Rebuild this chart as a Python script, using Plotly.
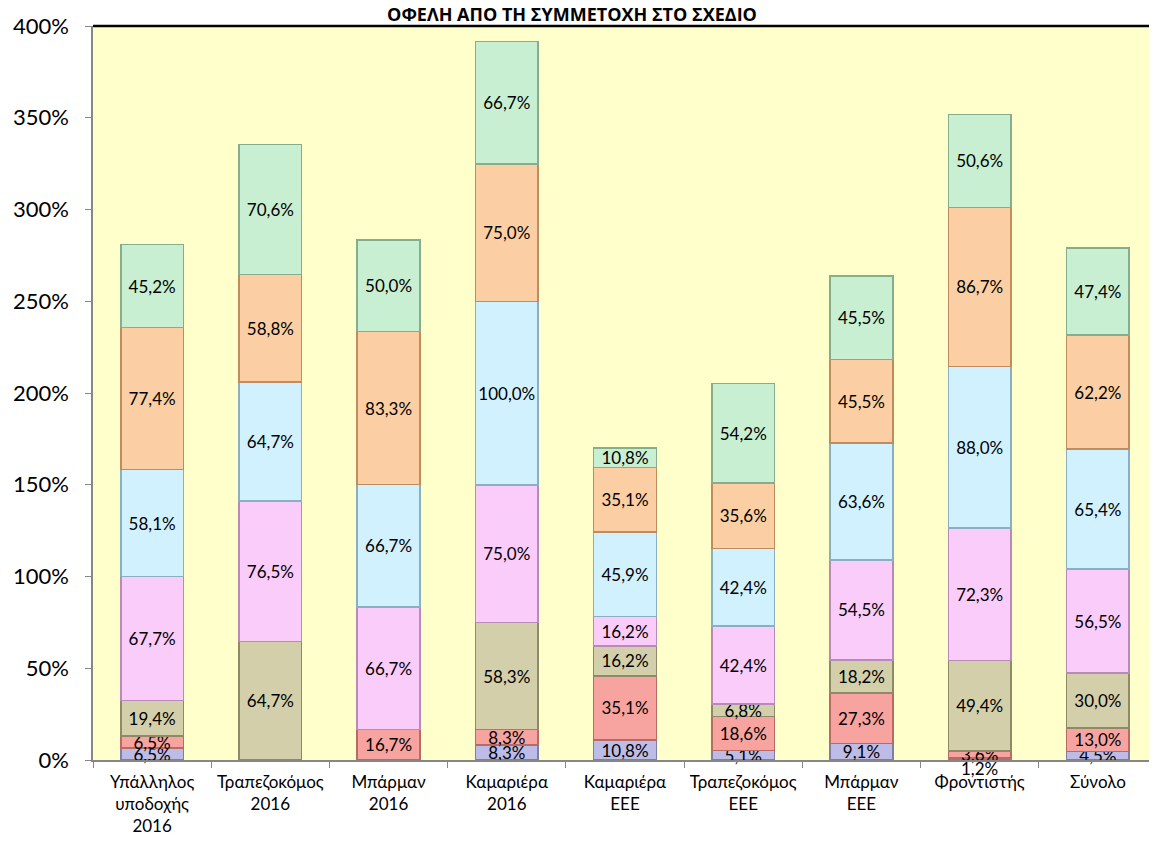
import plotly.graph_objects as go

categories = ["Υπάλληλος<br>υποδοχής<br>2016", "Τραπεζοκόμος<br>2016", "Μπάρμαν<br>2016",
              "Καμαριέρα<br>2016", "Καμαριέρα<br>ΕΕΕ", "Τραπεζοκόμος<br>ΕΕΕ", "Μπάρμαν<br>ΕΕΕ",
              "Φροντιστής", "Σύνολο"]

s_blue = [6.5, None, None, 8.3, 10.8, 5.1, 9.1, 1.2, 4.5]
s_red = [6.5, None, 16.7, 8.3, 35.1, 18.6, 27.3, 3.6, 13.0]
s_olive = [19.4, 64.7, None, 58.3, 16.2, 6.8, 18.2, 49.4, 30.0]
s_pink = [67.7, 76.5, 66.7, 75.0, 16.2, 42.4, 54.5, 72.3, 56.5]
s_lblue = [58.1, 64.7, 66.7, 100.0, 45.9, 42.4, 63.6, 88.0, 65.4]
s_orange = [77.4, 58.8, 83.3, 75.0, 35.1, 35.6, 45.5, 86.7, 62.2]
s_green = [45.2, 70.6, 50.0, 66.7, 10.8, 54.2, 45.5, 50.6, 47.4]

series = [
    (s_blue, "#BCBCE6", "#7E7EA8"),
    (s_red, "#F7A4A0", "#B86A64"),
    (s_olive, "#D3CFAB", "#8E8A66"),
    (s_pink, "#F9CCF9", "#B88AB8"),
    (s_lblue, "#D2F1FF", "#8AAFC2"),
    (s_orange, "#FBCFA3", "#BE8C5E"),
    (s_green, "#C8EFD2", "#86AD8E"),
]


def fmt(v):
    return f"{v:.1f}%".replace(".", ",")


fig = go.Figure()
annotations = []
for vals, col, edge in series:
    y = [None if v is None else v / 100 for v in vals]
    txt = []
    for cat, v in zip(categories, vals):
        if v is None:
            txt.append(None)
        elif v < 2:
            txt.append(None)
            annotations.append(dict(x=cat, y=0, xref="x", yref="y", text=fmt(v),
                                    showarrow=False, yanchor="top", yshift=4,
                                    font=dict(family="Lato", size=17, color="black")))
        else:
            txt.append(fmt(v))
    fig.add_trace(go.Bar(
        x=categories, y=y, text=txt, textposition="inside", insidetextanchor="middle",
        constraintext="none", textangle=0,
        textfont=dict(family="Lato", size=17, color="black"),
        marker=dict(color=col, line=dict(color=edge, width=1.5)),
        hoverinfo="skip", showlegend=False, cliponaxis=False,
    ))

fig.update_layout(
    barmode="stack", bargap=0.47,
    width=1149, height=833,
    margin=dict(l=85, r=0, t=18, b=81, pad=0),
    paper_bgcolor="white", plot_bgcolor="#FFFFCC",
    separators=",.",
    title=dict(text="<b>ΟΦΕΛΗ ΑΠΟ ΤΗ ΣΥΜΜΕΤΟΧΗ ΣΤΟ ΣΧΕΔΙΟ</b>", x=564 / 1149, xanchor="center",
               y=1, yanchor="top", yref="container", pad=dict(t=0, b=0),
               font=dict(family="Open Sans", size=18, color="black")),
    font=dict(family="Lato", color="black"),
    xaxis=dict(showline=True, linecolor="#868686", linewidth=1.5, ticks="outside",
               tickson="boundaries", ticklen=6, tickcolor="#868686", automargin=False,
               ticklabelstandoff=6,
               tickfont=dict(family="Lato", size=17, color="black"), showgrid=False),
    yaxis=dict(range=[0, 4], dtick=0.5, tickformat=".0%", showline=True, linecolor="#868686",
               linewidth=1.5, ticks="outside", ticklen=6, tickcolor="#868686",
               ticklabelstandoff=12, automargin=False,
               tickfont=dict(family="Lato", size=22, color="black"), showgrid=False,
               zeroline=False),
    annotations=annotations,
    shapes=[dict(type="line", xref="paper", yref="paper", x0=0, x1=1, y0=1, y1=1,
                 line=dict(color="black", width=2.5))],
)

fig.write_html("out.html")
